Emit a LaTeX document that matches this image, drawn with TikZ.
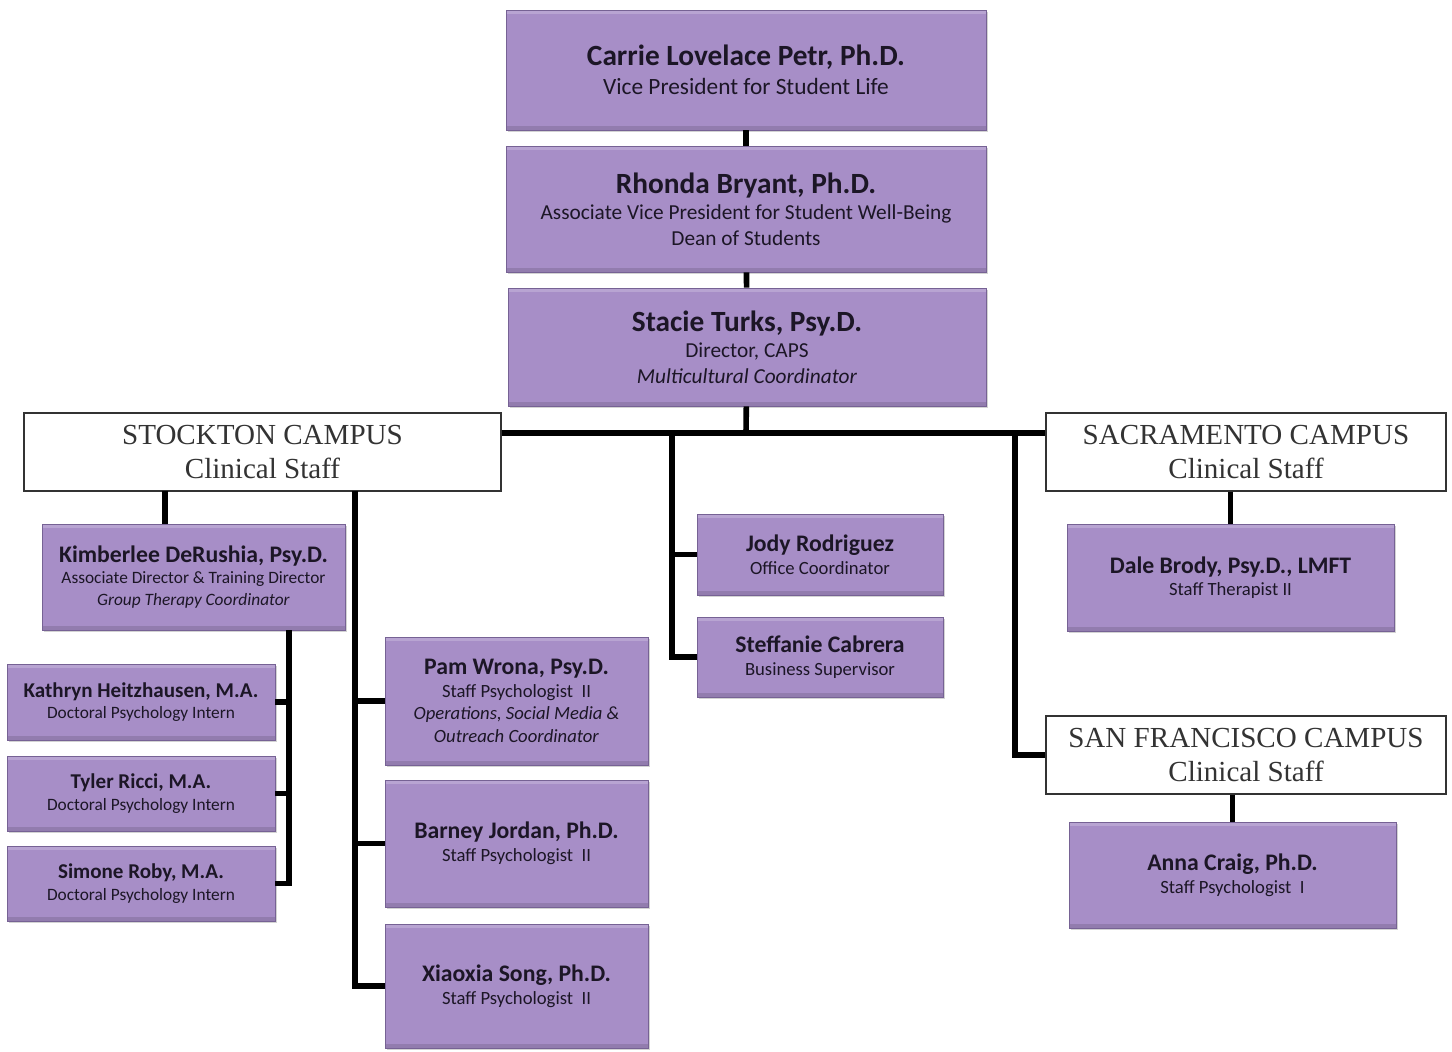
\documentclass[tikz,border=0pt]{standalone}
\usepackage{fontspec}
\setmainfont{Carlito}
\newfontfamily\campusfont{Liberation Serif}
\usetikzlibrary{shadows}
\definecolor{boxpurple}{RGB}{167,142,199}
\definecolor{boxline}{RGB}{118,98,148}
\definecolor{txtdark}{RGB}{28,22,38}
\newcommand{\bigname}[1]{{\fontsize{22pt}{26pt}\selectfont\bfseries #1}}
\newcommand{\midname}[1]{{\fontsize{17.8pt}{21pt}\selectfont\bfseries #1}}
\newcommand{\smname}[1]{{\fontsize{15.8pt}{19pt}\selectfont\bfseries #1}}
\begin{document}
\begin{tikzpicture}[x=0.75pt,y=-0.75pt,
  pbox/.style={rectangle, fill=boxpurple, draw=boxline, line width=0.6pt, text=txtdark,
    align=center, inner sep=2pt, drop shadow={shadow xshift=1.5pt, shadow yshift=-1.5pt, opacity=0.35},
    path picture={\fill[white, opacity=0.2] (path picture bounding box.north west)
      rectangle ([yshift=-3pt]path picture bounding box.north east);
      \fill[black, opacity=0.12] (path picture bounding box.south west)
      rectangle ([yshift=3pt]path picture bounding box.south east);}},
  topbox/.style={pbox, font=\fontsize{16pt}{19pt}\selectfont},
  midbox/.style={pbox, font=\fontsize{14pt}{17pt}\selectfont},
  campus/.style={rectangle, fill=white, draw=black!80, line width=0.8pt, align=center,
    font=\campusfont\fontsize{21.8pt}{26pt}\selectfont, text=black!80},
  link/.style={line width=4.2pt, black}]
\useasboundingbox (0,0) rectangle (1452,1051);
% top of the chart
\node[topbox, minimum width=360pt, minimum height=90pt, font=\fontsize{17.5pt}{21pt}\selectfont] (vp) at (746,70)
  {\bigname{Carrie Lovelace Petr, Ph.D.}\\[1pt] Vice President for Student Life};
\node[topbox, minimum width=360pt, minimum height=94.5pt] (avp) at (746,209)
  {\bigname{Rhonda Bryant, Ph.D.}\\[1pt] Associate Vice President for Student Well-Being\\ Dean of Students};
\node[topbox, minimum width=358.5pt, minimum height=88.5pt] (dir) at (747,347)
  {\bigname{Stacie Turks, Psy.D.}\\[1pt] Director, CAPS\\ \textit{Multicultural Coordinator}};
\draw[link](vp) -- (avp);
\draw[link](avp) -- (dir);
% campus headers
\node[campus, minimum width=357.75pt, minimum height=58.5pt] (stockton) at (262.5,452)
  {STOCKTON CAMPUS\\ Clinical Staff};
\node[campus, minimum width=300pt, minimum height=58.5pt] (sacto) at (1246,452)
  {SACRAMENTO CAMPUS\\ Clinical Staff};
\node[campus, minimum width=300pt, minimum height=58.5pt] (sanfran) at (1246,755)
  {SAN FRANCISCO CAMPUS\\ Clinical Staff};
\coordinate (bus) at (746,433);
\coordinate (jbr) at (672,433);
\coordinate (sfbr) at (1015,433);
\draw[link](dir) -- (bus);
\draw[link](stockton.east |- bus) -- (sacto.west |- bus);
% office staff
\node[midbox, minimum width=184.5pt, minimum height=60.75pt] (jody) at (820,554.5)
  {\midname{Jody Rodriguez}\\ Office Coordinator};
\node[midbox, minimum width=184.5pt, minimum height=60pt] (steff) at (820,657)
  {\midname{Steffanie Cabrera}\\ Business Supervisor};
\draw[link](jbr) |- (steff.west);
\draw[link](jbr |- jody.west) -- (jody.west);
% sacramento and san francisco
\node[midbox, minimum width=245.25pt, minimum height=80.25pt] (dale) at (1230.5,577.5)
  {\midname{Dale Brody, Psy.D., LMFT}\\ Staff Therapist II};
\node[midbox, minimum width=245.25pt, minimum height=79.5pt] (anna) at (1232.5,875)
  {\midname{Anna Craig, Ph.D.}\\ Staff Psychologist \ I};
\draw[link](sacto.south -| dale.north) -- (dale.north);
\draw[link](sfbr) |- (sanfran.west);
\draw[link](sanfran.south -| anna.north) -- (anna.north);
% stockton staff
\node[midbox, minimum width=227.25pt, minimum height=79.5pt, font=\fontsize{13pt}{16pt}\selectfont] (kim) at (193.5,577)
  {\midname{Kimberlee DeRushia, Psy.D.}\\ Associate Director \& Training Director\\ \textit{Group Therapy Coordinator}};
\node[midbox, minimum width=201pt, minimum height=57pt, font=\fontsize{13pt}{16pt}\selectfont] (kath) at (141,702)
  {\smname{Kathryn Heitzhausen, M.A.}\\ Doctoral Psychology Intern};
\node[midbox, minimum width=201pt, minimum height=56.25pt, font=\fontsize{13pt}{16pt}\selectfont] (tyler) at (141,793.5)
  {\smname{Tyler Ricci, M.A.}\\ Doctoral Psychology Intern};
\node[midbox, minimum width=201pt, minimum height=56.25pt, font=\fontsize{13pt}{16pt}\selectfont] (simone) at (141,883.5)
  {\smname{Simone Roby, M.A.}\\ Doctoral Psychology Intern};
\node[midbox, minimum width=197.25pt, minimum height=96pt] (pam) at (516.5,701)
  {\midname{Pam Wrona, Psy.D.}\\ Staff Psychologist \ II\\ \textit{Operations, Social Media \&}\\ \textit{Outreach Coordinator}};
\node[midbox, minimum width=197.25pt, minimum height=95.25pt] (barney) at (516.5,843.5)
  {\midname{Barney Jordan, Ph.D.}\\ Staff Psychologist \ II};
\node[midbox, minimum width=197.25pt, minimum height=93pt] (xiao) at (516.5,986)
  {\midname{Xiaoxia Song, Ph.D.}\\ Staff Psychologist \ II};
\coordinate (stk1) at (165,491);
\coordinate (stk2) at (355,491);
\coordinate (kbr) at (289,630);
\draw[link](stk1) -- (stk1 |- kim.north);
\draw[link](stk2) |- (xiao.west);
\draw[link](stk2 |- pam.west) -- (pam.west);
\draw[link](stk2 |- barney.west) -- (barney.west);
\draw[link](kbr) |- (simone.east);
\draw[link](kbr |- kath.east) -- (kath.east);
\draw[link](kbr |- tyler.east) -- (tyler.east);
\end{tikzpicture}
\end{document}
